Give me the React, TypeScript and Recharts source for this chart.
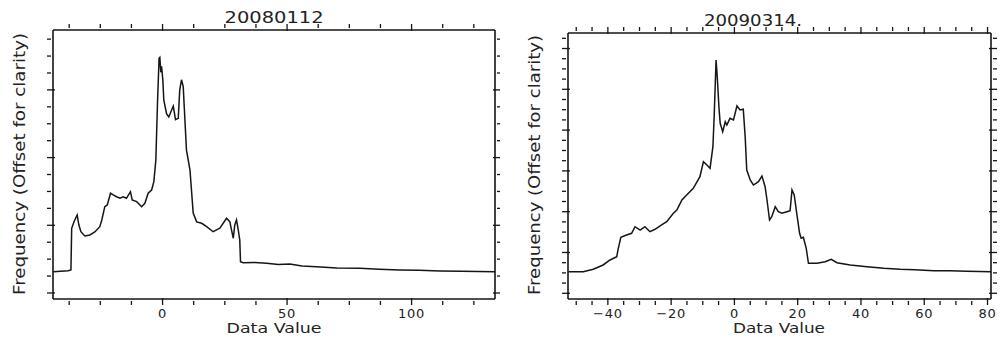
import React from 'react';
import { LineChart, Line, XAxis, YAxis } from 'recharts';

// panel 1 – 20080112
const dataValues2008 = [
  -43.9, -37.9, -36.8, -36.5, -35.6, -34.3, -33.6, -32.8, -31.2, -29.2, -27.2, -25.2, -24.4, -23.2, -22.2,
  -20.9, -19.8, -18.5, -17.1, -15.8, -14.5, -12.9, -12.2, -10.4, -8.4, -7.1, -5.8, -4.4, -3.5, -2.7, -2.0,
  -1.4, -1.1, -0.7, -0.4, 0.1, 0.5, 1.6, 2.5, 3.6, 4.3, 5.2, 6.3, 6.9, 7.6, 8.3, 8.7, 9.6, 11.0, 12.3,
  13.7, 15.7, 17.7, 20.3, 23.0, 25.7, 27.0, 28.4, 29.0, 29.7, 30.4, 31.0, 31.3, 32.4, 37.0, 41.8, 46.5,
  51.1, 56.0, 61.8, 70.0, 79.2, 87.0, 95.3, 103.0, 111.4, 120.0, 133.5,
];
const frequency2008 = [
  3.15, 3.29, 3.4, 9.56, 10.49, 11.52, 10.04, 9.05, 8.42, 8.57, 9.01, 9.79, 10.78, 12.75, 13.0,
  14.73, 14.48, 14.22, 13.99, 14.22, 13.99, 14.96, 13.74, 13.49, 12.75, 13.25, 14.73, 15.21, 16.44, 19.65, 28.5,
  34.67, 34.8, 32.6, 33.5, 31.5, 28.5, 26.5, 26.0, 27.0, 27.6, 25.6, 25.8, 30.0, 31.5, 30.5, 27.5, 21.1, 18.2, 11.8,
  10.5, 10.3, 9.8, 9.05, 9.56, 11.03, 10.53, 8.08, 10.04, 10.78, 9.31, 7.83, 4.62, 4.48, 4.5, 4.39, 4.2,
  4.28, 4.0, 3.88, 3.7, 3.65, 3.5, 3.4, 3.35, 3.25, 3.2, 3.15,
];

// panel 2 – 20090314.
const dataValues2009 = [
  -52.5, -47.8, -44.6, -41.5, -39.3, -37.2, -36.7, -35.9, -34.1, -32.5, -31.4, -29.8, -28.3, -26.7, -25.1,
  -23.0, -21.4, -19.3, -18.2, -16.6, -15.1, -13.0, -10.9, -9.8, -8.7, -7.7, -6.8, -6.4, -5.8, -5.4, -4.9,
  -4.5, -3.7, -2.9, -2.4, -1.4, -0.3, 0.8, 1.8, 2.8, 3.4, 3.9, 5.0, 6.0, 7.6, 8.7, 9.7, 10.3, 11.1, 11.8,
  12.9, 13.9, 15.0, 16.6, 17.6, 18.2, 18.9, 19.7, 20.6, 21.1, 21.8, 22.7, 23.4, 26.1, 28.7, 30.6, 32.4,
  36.6, 41.9, 47.2, 52.4, 57.0, 63.0, 68.0, 73.5, 81.1,
];
const frequency2009 = [
  5.29, 5.29, 5.88, 6.94, 8.16, 8.97, 11.03, 13.73, 14.29, 14.71, 16.32, 15.51, 16.32, 15.1, 15.69,
  16.74, 17.55, 19.61, 20.42, 22.87, 24.09, 25.74, 28.58, 32.25, 31.45, 30.64, 35.93, 43.28, 57.18, 52.7, 45.74,
  41.67, 39.61, 42.06, 41.25, 42.89, 42.48, 45.91, 44.93, 45.1, 38.38, 30.22, 27.77, 26.54, 27.35, 28.75, 26.13, 22.87, 17.97, 18.77,
  21.23, 20.0, 19.61, 20.0, 20.25, 25.32, 24.09, 19.61, 14.71, 13.48, 13.73, 11.03, 7.35, 7.35, 7.75, 8.33, 7.5,
  6.94, 6.52, 6.13, 5.88, 5.75, 5.54, 5.5, 5.39, 5.29,
];

// tick marks (IDL style: 4 minor intervals per major)
const xTicks2008 = [-37.5, -25, -12.5, 0, 12.5, 25, 37.5, 50, 62.5, 75, 87.5, 100, 112.5, 125];
const xMajors2008 = [0, 50, 100];
const yTicks2008 = [0, 2.5, 5, 7.5, 10, 12.5, 15, 17.5, 20, 22.5, 25, 27.5, 30, 32.5, 35, 37.5];
const yMajors2008 = [0, 10, 20, 30];

const xTicks2009 = [-50, -45, -40, -35, -30, -25, -20, -15, -10, -5, 0, 5, 10, 15, 20, 25, 30, 35, 40, 45, 50, 55, 60, 65, 70, 75, 80];
const xMajors2009 = [-40, -20, 0, 20, 40, 60, 80];
const yTicks2009 = [0, 2.5, 5, 7.5, 10, 12.5, 15, 17.5, 20, 22.5, 25, 27.5, 30, 32.5, 35, 37.5, 40, 42.5, 45, 47.5, 50, 52.5, 55, 57.5, 60, 62.5];
const yMajors2009 = [0, 10, 20, 30, 40, 50, 60];

const INK = '#151515';
const FONT = '"DejaVu Sans", sans-serif';

const fmt = (v: number) => (v < 0 ? '\u2212' + Math.abs(v) : String(v));

const xTick = (majors: number[], side: 'bottom' | 'top') => (props: any) => {
  const { x, y, payload } = props;
  const major = majors.includes(payload.value);
  const dir = side === 'bottom' ? -1 : 1;
  return (
    <g>
      <line x1={x} y1={y} x2={x} y2={y + dir * (major ? 7 : 4)} stroke={INK} strokeWidth={1.3} />
      {side === 'bottom' && major && (
        <text x={x} y={y + 13} textAnchor="middle" fontFamily={FONT} fontSize={13} letterSpacing={0.8} fill="#222">
          {fmt(payload.value)}
        </text>
      )}
    </g>
  );
};

const yTick = (majors: number[], side: 'left' | 'right') => (props: any) => {
  const { x, y, payload } = props;
  const major = majors.includes(payload.value);
  const dir = side === 'left' ? 1 : -1;
  return <line x1={x} y1={y} x2={x + dir * (major ? 8 : 4)} y2={y} stroke={INK} strokeWidth={1.3} />;
};

interface PanelProps {
  xs: number[];
  ys: number[];
  xDomain: [number, number];
  yDomain: [number, number];
  xTicks: number[];
  xMajors: number[];
  yTicks: number[];
  yMajors: number[];
  width: number;
  // plot box edges inside this chart's own svg
  box: { left: number; right: number; top: number; bottom: number };
}

const Panel: React.FC<PanelProps> = ({ xs, ys, xDomain, yDomain, xTicks, xMajors, yTicks, yMajors, width, box }) => {
  const rows = xs.map((x, i) => ({ x, y: ys[i] }));
  const axisLine = { stroke: INK, strokeWidth: 1.6 };
  // every axis takes 1px, so margins are one less than the box edges
  const margin = { left: box.left - 1, right: width - box.right - 1, top: box.top - 1, bottom: 337 - box.bottom - 1 };
  return (
    <LineChart width={width} height={337} data={rows} margin={margin}>
      <XAxis xAxisId="b" dataKey="x" type="number" domain={xDomain} allowDataOverflow ticks={xTicks} interval={0}
        height={1} tickLine={false} tickMargin={0} axisLine={axisLine} tick={xTick(xMajors, 'bottom')} />
      <XAxis xAxisId="t" orientation="top" dataKey="x" type="number" domain={xDomain} allowDataOverflow ticks={xTicks} interval={0}
        height={1} tickLine={false} tickMargin={0} axisLine={axisLine} tick={xTick(xMajors, 'top')} />
      <YAxis yAxisId="l" type="number" domain={yDomain} allowDataOverflow ticks={yTicks} interval={0}
        width={1} tickLine={false} tickMargin={0} axisLine={axisLine} tick={yTick(yMajors, 'left')} />
      <YAxis yAxisId="r" orientation="right" type="number" domain={yDomain} allowDataOverflow ticks={yTicks} interval={0}
        width={1} tickLine={false} tickMargin={0} axisLine={axisLine} tick={yTick(yMajors, 'right')} />
      <Line xAxisId="t" yAxisId="r" type="linear" dataKey="y" stroke="none" dot={false} activeDot={false} isAnimationActive={false} />
      <Line xAxisId="b" yAxisId="l" type="linear" dataKey="y" stroke={INK} strokeWidth={1.5} dot={false} activeDot={false} isAnimationActive={false} />
    </LineChart>
  );
};

const App: React.FC = () => {
  return (
    <div style={{ position: 'absolute', left: 0, top: 0, width: 1001, height: 337, background: '#fff' }}>
      <div style={{ position: 'absolute', left: 0, top: 0 }}>
        <Panel xs={dataValues2008} ys={frequency2008} xDomain={[-44, 133.5]} yDomain={[-0.89, 38.85]}
          xTicks={xTicks2008} xMajors={xMajors2008} yTicks={yTicks2008} yMajors={yMajors2008}
          width={500} box={{ left: 53, right: 495, top: 30, bottom: 299 }} />
      </div>
      <div style={{ position: 'absolute', left: 500, top: 0 }}>
        <Panel xs={dataValues2009} ys={frequency2009} xDomain={[-52.6, 81.1]} yDomain={[-1.4, 63.8]}
          xTicks={xTicks2009} xMajors={xMajors2009} yTicks={yTicks2009} yMajors={yMajors2009}
          width={501} box={{ left: 68, right: 491, top: 33, bottom: 299 }} />
      </div>
      <svg width={1001} height={337} style={{ position: 'absolute', left: 0, top: 0, pointerEvents: 'none' }}>
        <g fontFamily={FONT} fill="#222">
          <text x={274} y={23} textAnchor="middle" fontSize={16} textLength={99} lengthAdjust="spacingAndGlyphs">20080112</text>
          <text x={753} y={26} textAnchor="middle" fontSize={16} textLength={98} lengthAdjust="spacingAndGlyphs">20090314.</text>
          <text x={274} y={333} textAnchor="middle" fontSize={14} textLength={95} lengthAdjust="spacingAndGlyphs">Data Value</text>
          <text x={779} y={333} textAnchor="middle" fontSize={14} textLength={92} lengthAdjust="spacingAndGlyphs">Data Value</text>
          <text x={0} y={0} transform="translate(25,164) rotate(-90)" textAnchor="middle" fontSize={16}
            textLength={262} lengthAdjust="spacingAndGlyphs">Frequency (Offset for clarity)</text>
          <text x={0} y={0} transform="translate(540,165) rotate(-90)" textAnchor="middle" fontSize={16}
            textLength={260} lengthAdjust="spacingAndGlyphs">Frequency (Offset for clarity)</text>
        </g>
      </svg>
    </div>
  );
};

export default App;
